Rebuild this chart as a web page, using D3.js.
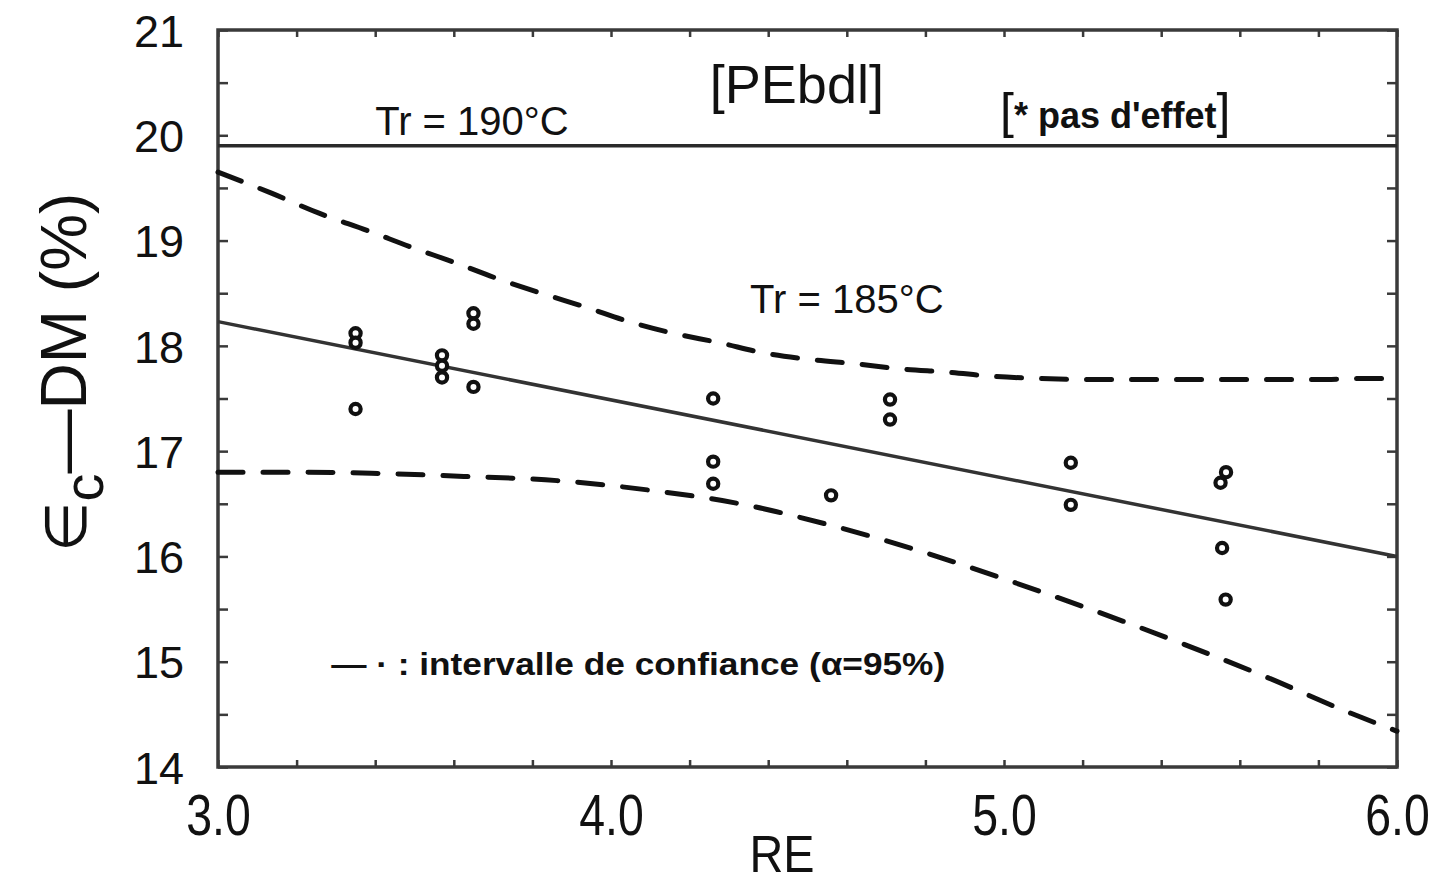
<!DOCTYPE html>
<html>
<head>
<meta charset="utf-8">
<script src="https://cdn.jsdelivr.net/npm/d3@7"></script>
<style>
  html, body { margin: 0; padding: 0; background: #fff; }
  svg { display: block; }
  text { font-family: "Liberation Sans", Arial, sans-serif; fill: #111; }
</style>
</head>
<body>
<svg id="chart" width="1439" height="887"></svg>
<script>
// Measured strain values (RE, εc-DM %) at Tr = 185 °C
const pointRE    = [3.35, 3.35, 3.35, 3.57, 3.57, 3.57, 3.65, 3.65, 3.65,
                    4.26, 4.26, 4.26, 4.56, 4.71, 4.71, 5.17, 5.17,
                    5.565, 5.551, 5.555, 5.564];
const pointValue = [18.12, 18.03, 17.40, 17.91, 17.81, 17.70, 18.31, 18.21, 17.61,
                    17.50, 16.90, 16.69, 16.58, 17.49, 17.30, 16.89, 16.49,
                    16.80, 16.70, 16.08, 15.59];

// Fitted regression line (Tr = 185 °C)
const fitRE    = [3.0, 6.0];
const fitValue = [18.23, 16.00];

// Constant level at Tr = 190 °C (no effect of RE)
const levelRE    = [3.0, 6.0];
const levelValue = [19.90, 19.90];

// 95 % confidence band, upper and lower limits
const upperRE    = [3.0, 3.136, 3.257, 3.384, 3.49, 3.603, 3.71, 3.822, 3.934, 4.046, 4.158,
                    4.275, 4.392, 4.51, 4.62, 4.74, 4.857, 4.975, 5.09, 5.21, 5.33, 5.45,
                    5.565, 5.68, 5.8, 5.92, 6.0];
const upperValue = [19.65, 19.45, 19.26, 19.09, 18.94, 18.79, 18.64, 18.50, 18.37, 18.23, 18.12,
                    18.03, 17.93, 17.87, 17.83, 17.78, 17.75, 17.71, 17.69, 17.68, 17.68, 17.68,
                    17.68, 17.68, 17.68, 17.69, 17.69];
const lowerRE    = [3.0, 3.196, 3.39, 3.626, 3.863, 4.097, 4.328, 4.555, 4.779, 5.005,
                    5.226, 5.448, 5.664, 5.883, 6.0];
const lowerValue = [16.80, 16.80, 16.79, 16.76, 16.72, 16.63, 16.50, 16.30, 16.06, 15.78,
                    15.49, 15.18, 14.86, 14.51, 14.34];

// Axis ticks and labels
const xMinorTicks = d3.range(0, 16).map(i => 3 + i * 0.2);
const xLabels     = [3.0, 4.0, 5.0, 6.0];
const yMinorTicks = d3.range(0, 15).map(i => 14 + i * 0.5);
const yLabels     = [14, 15, 16, 17, 18, 19, 20, 21];

const svg = d3.select("#chart");
const plotLeft = 218, plotRight = 1397, plotTop = 30, plotBottom = 767;

const x = d3.scaleLinear().domain([3, 6]).range([plotLeft, plotRight]);
const y = d3.scaleLinear().domain([14, 21]).range([plotBottom, plotTop]);

const ink = "#111";
const frameInk = "#3a3a3a";

// Tick marks (inward) on all four sides
function styleTicks(g) {
  g.select(".domain").remove();
  g.selectAll(".tick line").attr("stroke", frameInk).attr("stroke-width", 2.5);
}
svg.append("g").attr("transform", `translate(${plotLeft},0)`)
  .call(d3.axisLeft(y).tickValues(yMinorTicks).tickSize(-10).tickFormat(""))
  .call(styleTicks);
svg.append("g").attr("transform", `translate(${plotRight},0)`)
  .call(d3.axisRight(y).tickValues(yMinorTicks).tickSize(-10).tickFormat(""))
  .call(styleTicks);
svg.append("g").attr("transform", `translate(0,${plotBottom})`)
  .call(d3.axisBottom(x).tickValues(xMinorTicks).tickSize(-7).tickFormat(""))
  .call(styleTicks);
svg.append("g").attr("transform", `translate(0,${plotTop})`)
  .call(d3.axisTop(x).tickValues(xMinorTicks).tickSize(-7).tickFormat(""))
  .call(styleTicks);

// Tick labels
const yAxisLabels = svg.append("g").attr("transform", `translate(${plotLeft},0)`)
  .call(d3.axisLeft(y).tickValues(yLabels).tickSize(0).tickPadding(34).tickFormat(d3.format("d")));
yAxisLabels.select(".domain").remove();
yAxisLabels.selectAll("text")
  .attr("font-size", 45).attr("fill", ink).attr("dy", "0.36em")
  .style("font-family", '"Liberation Sans", Arial, sans-serif');

const xAxisLabels = svg.append("g").attr("transform", `translate(0,${plotBottom})`)
  .call(d3.axisBottom(x).tickValues(xLabels).tickSize(0).tickPadding(27).tickFormat(d3.format(".1f")));
xAxisLabels.select(".domain").remove();
xAxisLabels.selectAll("text")
  .attr("font-size", 58).attr("fill", ink).attr("dy", "0.71em")
  .attr("transform", "scale(0.8,1)")
  .style("font-family", '"Liberation Sans", Arial, sans-serif');

// Plot frame
svg.append("rect")
  .attr("x", plotLeft).attr("y", plotTop)
  .attr("width", plotRight - plotLeft).attr("height", plotBottom - plotTop)
  .attr("fill", "none").attr("stroke", frameInk).attr("stroke-width", 3.5);

const line = d3.line().x(d => x(d[0])).y(d => y(d[1]));
const zip = (a, b) => a.map((v, i) => [v, b[i]]);

// Tr = 190 °C level
svg.append("path").datum(zip(levelRE, levelValue))
  .attr("d", line).attr("fill", "none").attr("stroke", "#2a2a2a").attr("stroke-width", 3.5);

// Regression line
svg.append("path").datum(zip(fitRE, fitValue))
  .attr("d", line).attr("fill", "none").attr("stroke", "#333").attr("stroke-width", 3.5);

// Confidence band
const curve = d3.line().x(d => x(d[0])).y(d => y(d[1])).curve(d3.curveMonotoneX);
[[upperRE, upperValue], [lowerRE, lowerValue]].forEach(([re, v]) => {
  svg.append("path").datum(zip(re, v))
    .attr("d", curve).attr("fill", "none")
    .attr("stroke", ink).attr("stroke-width", 5)
    .attr("stroke-dasharray", "25,20").attr("stroke-linecap", "round");
});

// Data points
svg.append("g").selectAll("circle")
  .data(zip(pointRE, pointValue))
  .join("circle")
  .attr("cx", d => x(d[0])).attr("cy", d => y(d[1]))
  .attr("r", 5.1)
  .attr("fill", "#fff").attr("stroke", ink).attr("stroke-width", 4.2);

// Annotations
svg.append("text")
  .attr("x", x(3.40)).attr("y", y(20.0))
  .attr("font-size", 40).text("Tr = 190°C");

svg.append("text")
  .attr("x", x(4.473)).attr("y", y(20.31))
  .attr("text-anchor", "middle").attr("font-size", 54).text("[PEbdl]");

const note = svg.append("text")
  .attr("x", x(4.99)).attr("y", y(20.07));
note.append("tspan").attr("font-size", 50).text("[");
note.append("tspan").attr("font-size", 36).attr("font-weight", "bold").text("* pas d'effet");
note.append("tspan").attr("font-size", 50).text("]");

svg.append("text")
  .attr("x", x(4.354)).attr("y", y(18.31))
  .attr("font-size", 40).text("Tr = 185°C");

svg.append("text")
  .attr("x", x(3.288)).attr("y", y(14.87))
  .attr("font-size", 31).attr("font-weight", "bold")
  .attr("textLength", 614).attr("lengthAdjust", "spacingAndGlyphs")
  .text("— · : intervalle de confiance (α=95%)");

// Axis titles
svg.append("text")
  .attr("x", 782 / 0.9).attr("y", 872)
  .attr("transform", "scale(0.9,1)")
  .attr("text-anchor", "middle").attr("font-size", 52).text("RE");

const yTitle = svg.append("text")
  .attr("transform", "translate(86,552) rotate(-90)")
  .attr("font-size", 64);
yTitle.append("tspan").style("font-family", '"DejaVu Sans", sans-serif').attr("font-size", 58).text("∈");
yTitle.append("tspan").attr("dy", 17).attr("font-size", 56).text("c");
yTitle.append("tspan").attr("dy", -17).text("—DM (%)");
</script>
</body>
</html>
